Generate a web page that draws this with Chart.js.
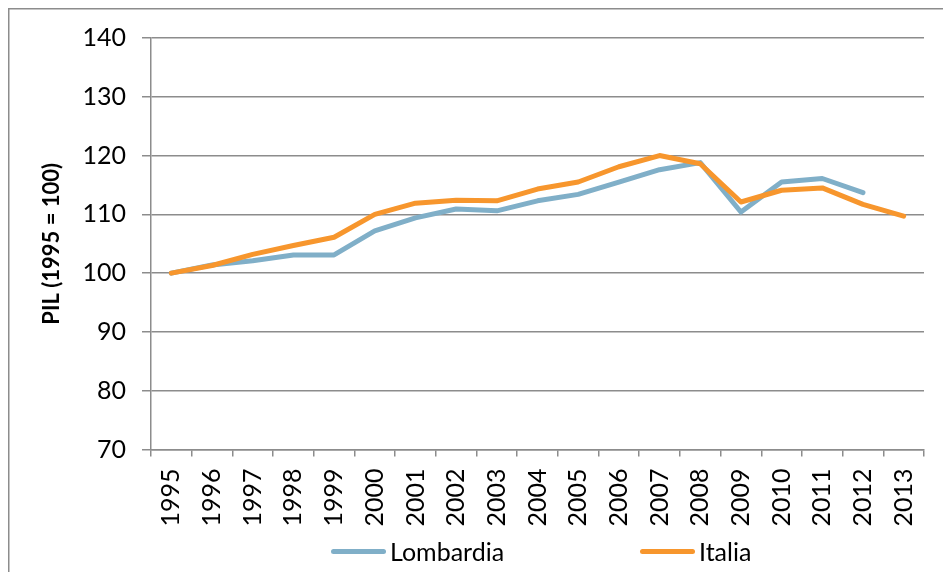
<!DOCTYPE html>
<html>
<head>
<meta charset="utf-8">
<script src="https://cdn.jsdelivr.net/npm/chart.js@4.4.1/dist/chart.umd.min.js"></script>
<style>
  html, body { margin: 0; padding: 0; background: #fff; }
  #wrap { position: relative; width: 943px; height: 572px; overflow: hidden; }
  #legend { position: absolute; left: 0; top: 551px; width: 943px; font-family: Lato, sans-serif; font-size: 25px; color: #000; }
  .item { position: absolute; top: 0; display: flex; align-items: center; transform: translateY(-50%); }
  .swatch { width: 55px; height: 5px; border-radius: 3px; margin-right: 4px; }
</style>
</head>
<body>
<div id="wrap">
  <canvas id="chart" width="943" height="572"></canvas>
  <div id="legend"></div>
</div>
<script>
const years = ['1995', '1996', '1997', '1998', '1999', '2000', '2001', '2002', '2003', '2004',
               '2005', '2006', '2007', '2008', '2009', '2010', '2011', '2012', '2013'];
const lombardia = [100, 101.4, 102.1, 103.1, 103.1, 107.2, 109.4, 110.9, 110.6, 112.3,
                   113.4, 115.5, 117.6, 118.8, 110.4, 115.5, 116.1, 113.7, null];
const italia = [100, 101.3, 103.2, 104.7, 106.1, 110, 111.9, 112.4, 112.3, 114.3,
                115.5, 118.1, 120, 118.6, 112.1, 114.1, 114.5, 111.7, 109.7];
const yTitle = 'PIL (1995 = 100)';
const seriesNames = ['Lombardia', 'Italia'];
const seriesColors = ['#80AFC8', '#F7962D'];

const FONT = 'Lato, sans-serif';

// outer frame like the excel chart area border
const framePlugin = {
  id: 'frame',
  beforeDraw(chart) {
    const ctx = chart.ctx;
    ctx.save();
    ctx.strokeStyle = '#8c8c8c';
    ctx.lineWidth = 1.5;
    ctx.strokeRect(8.75, 8.75, 2000, 2000);
    ctx.restore();
  }
};

const ctx = document.getElementById('chart');
const chart = new Chart(ctx, {
  type: 'line',
  data: {
    labels: years,
    datasets: [{
      label: seriesNames[0],
      data: lombardia,
      borderColor: seriesColors[0],
      backgroundColor: seriesColors[0],
      order: 1
    }, {
      label: seriesNames[1],
      data: italia,
      borderColor: seriesColors[1],
      backgroundColor: seriesColors[1],
      order: 0
    }]
  },
  options: {
    responsive: false,
    animation: false,
    devicePixelRatio: 1,
    elements: {
      line: { borderWidth: 5, tension: 0, borderCapStyle: 'round', borderJoinStyle: 'round' },
      point: { radius: 0, hoverRadius: 0 }
    },
    layout: { padding: { left: 30, right: 19, top: 38, bottom: 0 } },
    plugins: {
      legend: { display: false },
      tooltip: { enabled: false }
    },
    scales: {
      x: {
        offset: true,
        grid: { offset: true, drawOnChartArea: false, drawTicks: true, tickLength: 7, color: '#8c8c8c', lineWidth: 1.5 },
        border: { color: '#8c8c8c', width: 1.5 },
        ticks: { color: '#000', font: { family: FONT, size: 25 }, minRotation: 90, maxRotation: 90, padding: 12, autoSkip: false },
        afterFit: s => {
          s.height = 572 - 449.5;
          s.paddingLeft = 0;
          s.paddingRight = 0;
        }
      },
      y: {
        min: 70,
        max: 140,
        ticks: { stepSize: 10, color: '#000', font: { family: FONT, size: 25 }, padding: 16 },
        grid: { color: '#8c8c8c', lineWidth: 1.5, tickLength: 9 },
        border: { color: '#8c8c8c', width: 1.5 },
        title: { display: true, text: yTitle, color: '#000', font: { family: FONT, size: 22, weight: 'bold' }, padding: 9 },
        afterFit: s => { s.width = 151 - 30; }
      }
    }
  },
  plugins: [framePlugin]
});

// legend laid out like the reference (wide gap between entries)
const legendX = [331, 640];
const legend = document.getElementById('legend');
chart.data.datasets.forEach((ds, i) => {
  const item = document.createElement('div');
  item.className = 'item';
  item.style.left = legendX[i] + 'px';
  const sw = document.createElement('span');
  sw.className = 'swatch';
  sw.style.background = ds.borderColor;
  const txt = document.createElement('span');
  txt.textContent = ds.label;
  item.appendChild(sw);
  item.appendChild(txt);
  legend.appendChild(item);
});
</script>
</body>
</html>
